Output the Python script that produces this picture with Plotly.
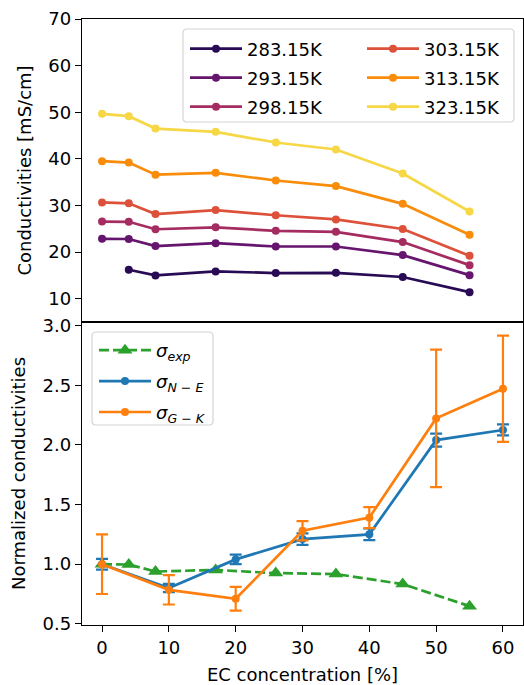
import plotly.graph_objects as go
from plotly.subplots import make_subplots

# --- Conductivity vs EC concentration at several temperatures ---
ec_full = [0, 4, 8, 17, 26, 35, 45, 55]
ec_283 = [4, 8, 17, 26, 35, 45, 55]
temps = ["283.15K", "293.15K", "298.15K", "303.15K", "313.15K", "323.15K"]
cond_283 = [16.2, 15.0, 15.85, 15.5, 15.55, 14.65, 11.4]
cond_293 = [22.85, 22.8, 21.3, 21.9, 21.2, 21.2, 19.35, 15.05]
cond_298 = [26.55, 26.5, 24.9, 25.3, 24.55, 24.35, 22.15, 17.2]
cond_303 = [30.65, 30.45, 28.15, 29.0, 27.9, 27.0, 24.95, 19.2]
cond_313 = [39.5, 39.2, 36.6, 37.0, 35.35, 34.15, 30.35, 23.7]
cond_323 = [49.65, 49.15, 46.5, 45.8, 43.5, 42.0, 36.85, 28.7]
temp_colors = ["#280b54", "#65156e", "#a52c60", "#dd513a", "#f98c0a", "#f6d746"]

# --- Normalized conductivities ---
ec_exp = [0, 4, 8, 17, 26, 35, 45, 55]
sigma_exp = [1.0, 0.997, 0.938, 0.952, 0.925, 0.917, 0.833, 0.648]
ec_sim = [0, 10, 20, 30, 40, 50, 60]
sigma_ne = [1.0, 0.80, 1.04, 1.21, 1.25, 2.04, 2.125]
sigma_ne_err = [0.045, 0.035, 0.04, 0.048, 0.049, 0.055, 0.046]
sigma_gk = [1.0, 0.785, 0.71, 1.28, 1.39, 2.222, 2.47]
sigma_gk_err = [0.25, 0.123, 0.10, 0.08, 0.088, 0.577, 0.445]

FONT = "DejaVu Sans"
BLACK = "#000000"
LW = 2.7

fig = make_subplots(rows=2, cols=1, shared_xaxes=True, vertical_spacing=0)

top_series = [
    (ec_283, cond_283), (ec_full, cond_293), (ec_full, cond_298),
    (ec_full, cond_303), (ec_full, cond_313), (ec_full, cond_323),
]
for i, ((xs, ys), name, col) in enumerate(zip(top_series, temps, temp_colors)):
    fig.add_trace(go.Scatter(
        x=xs, y=ys, name=name, mode="lines+markers",
        line=dict(color=col, width=LW),
        marker=dict(color=col, size=8),
        legend="legend" if i < 3 else "legend2",
        legendgroup=name,
    ), row=1, col=1)

fig.add_trace(go.Scatter(
    x=ec_exp, y=sigma_exp, mode="lines+markers",
    name="<i>σ</i><sub><i>exp</i></sub>",
    line=dict(color="#2ca02c", width=LW, dash="10px,4px"),
    marker=dict(symbol="triangle-up", size=13, color="#2ca02c"),
    legend="legend3", legendgroup="exp",
), row=2, col=1)
fig.add_trace(go.Scatter(
    x=ec_sim, y=sigma_ne, mode="lines+markers",
    name="<i>σ</i><sub><i>N</i> − <i>E</i></sub>",
    line=dict(color="#1f77b4", width=LW),
    marker=dict(size=8, color="#1f77b4"),
    error_y=dict(type="data", array=sigma_ne_err, color="#1f77b4",
                 thickness=2.2, width=6),
    legend="legend3", legendgroup="ne",
), row=2, col=1)
fig.add_trace(go.Scatter(
    x=ec_sim, y=sigma_gk, mode="lines+markers",
    name="<i>σ</i><sub><i>G</i> − <i>K</i></sub>",
    line=dict(color="#ff7f0e", width=LW),
    marker=dict(size=8, color="#ff7f0e"),
    error_y=dict(type="data", array=sigma_gk_err, color="#ff7f0e",
                 thickness=2.2, width=6),
    legend="legend3", legendgroup="gk",
), row=2, col=1)

axis_common = dict(
    showline=True, linecolor=BLACK, linewidth=1.4, mirror=True,
    showgrid=False, zeroline=False,
    tickfont=dict(family=FONT, size=18, color=BLACK),
)

fig.update_xaxes(range=[-3, 63], **axis_common)
fig.update_xaxes(showticklabels=False, ticks="", row=1, col=1)
fig.update_xaxes(
    ticks="outside", ticklen=6, tickwidth=1.4, tickcolor=BLACK,
    tickvals=[0, 10, 20, 30, 40, 50, 60],
    title=dict(text="EC concentration [%]", standoff=14,
               font=dict(family=FONT, size=18, color=BLACK)),
    row=2, col=1,
)
fig.update_yaxes(
    range=[5, 70], tickvals=[10, 20, 30, 40, 50, 60, 70],
    ticks="outside", ticklen=6, tickwidth=1.4, tickcolor=BLACK,
    title=dict(text="Conductivities [mS/cm]", standoff=11,
               font=dict(family=FONT, size=18, color=BLACK)),
    row=1, col=1, **axis_common,
)
fig.update_yaxes(
    range=[0.49, 3.03], tickvals=[0.5, 1.0, 1.5, 2.0, 2.5, 3.0],
    tickformat=".1f",
    ticks="outside", ticklen=6, tickwidth=1.4, tickcolor=BLACK,
    title=dict(text="Normalized conductivities", standoff=12,
               font=dict(family=FONT, size=18, color=BLACK)),
    row=2, col=1, **axis_common,
)


def rounded_box(x0, y0, x1, y1, r_px, w_px, h_px):
    """Rounded rectangle path in paper coordinates."""
    rx = r_px / w_px
    ry = r_px / h_px
    return (
        f"M{x0 + rx},{y0} L{x1 - rx},{y0} Q{x1},{y0} {x1},{y0 + ry} "
        f"L{x1},{y1 - ry} Q{x1},{y1} {x1 - rx},{y1} "
        f"L{x0 + rx},{y1} Q{x0},{y1} {x0},{y1 - ry} "
        f"L{x0},{y0 + ry} Q{x0},{y0} {x0 + rx},{y0} Z"
    )


W, H = 524, 685
ML, MR, MT, MB = 82, 1, 19, 60
PW, PH = W - ML - MR, H - MT - MB


def px_x(px):
    return (px - ML) / PW


def px_y(py):
    return (H - MB - py) / PH


box_style = dict(type="path", xref="paper", yref="paper", layer="above",
                 fillcolor="rgba(255,255,255,0.8)",
                 line=dict(color="#d4d4d4", width=1.2))
fig.add_shape(path=rounded_box(px_x(183), px_y(122), px_x(514), px_y(29), 4, PW, PH),
              **box_style)
fig.add_shape(path=rounded_box(px_x(92), px_y(425), px_x(213), px_y(332), 4, PW, PH),
              **box_style)

legend_common = dict(
    bgcolor="rgba(0,0,0,0)", borderwidth=0, orientation="v",
    font=dict(family=FONT, size=18, color=BLACK),
    itemwidth=52, tracegroupgap=2.6, xanchor="left", yanchor="top",
)
fig.update_layout(
    width=W, height=H,
    margin=dict(l=ML, r=MR, t=MT, b=MB),
    paper_bgcolor="white", plot_bgcolor="white",
    font=dict(family=FONT, size=18, color=BLACK),
    legend=dict(x=px_x(185), y=px_y(30.5), **legend_common),
    legend2=dict(x=px_x(362), y=px_y(30.5), **legend_common),
    legend3=dict(x=px_x(94), y=px_y(332), **{**legend_common, "tracegroupgap": 4.5}),
)

fig.write_html("out.html")
